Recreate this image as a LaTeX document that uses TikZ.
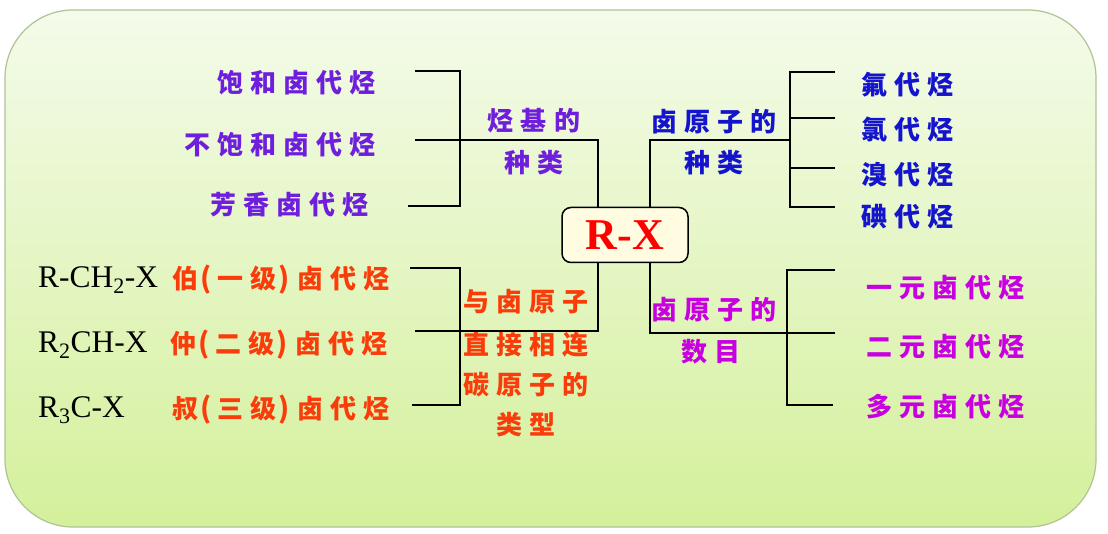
\documentclass[tikz,border=0pt]{standalone}
\usepackage{fontspec}
\setmainfont{Liberation Serif}
\newfontfamily\cjk[LetterSpace=27]{Noto Sans CJK SC}
\newcommand{\lp}{\kern2pt{\fontsize{28}{30}\selectfont(}\kern6pt}
\newcommand{\rp}{\kern2pt{\fontsize{28}{30}\selectfont)}\kern8pt}
\definecolor{cpurple}{RGB}{110,30,220}
\definecolor{cblue}{RGB}{20,20,205}
\definecolor{cmag}{RGB}{200,0,225}
\definecolor{cred}{RGB}{250,60,10}
\definecolor{bgtop}{RGB}{244,251,234}
\definecolor{bgbot}{RGB}{212,240,155}
\definecolor{bgline}{RGB}{175,195,150}
\definecolor{boxfill}{RGB}{255,252,226}
\tikzset{
  zh/.style={font=\cjk\bfseries\fontsize{26}{30}\selectfont, inner sep=0pt},
  formula/.style={font=\fontsize{31.5}{34}\selectfont, inner sep=0pt, text=black},
  wire/.style={line width=1.8pt, black},
}
\begin{document}
\begin{tikzpicture}[x=1pt,y=-1pt]
\useasboundingbox (0,0) rectangle (1108,534);
\fill[white] (0,0) rectangle (1108,534);
\shade[top color=bgtop, bottom color=bgbot, draw=bgline, line width=1.2pt, rounded corners=68pt] (5,10) rectangle (1096,527);

% central node
\node[draw=black, line width=1.5pt, fill=boxfill, rounded corners=9pt, minimum width=126pt, minimum height=55pt, inner sep=0pt, text=red, font=\bfseries\fontsize{44}{46}\selectfont] (rx) at (625,235) {R-X};

% ---- top-left: hydrocarbon group type
\node[zh, text=cpurple, anchor=east] (a1) at (376,83) {饱和卤代烃};
\node[zh, text=cpurple, anchor=east] (a2) at (376,145) {不饱和卤代烃};
\node[zh, text=cpurple, anchor=east] (a3) at (369,205) {芳香卤代烃};
\node[zh, text=cpurple] (la1) at (534,121) {烃基的};
\node[zh, text=cpurple] (la2) at (534,163) {种类};
\coordinate (ta) at (415,71);
\coordinate (ma) at (415,140);
\coordinate (ba) at (408,206);
\draw[wire] (ta) -- (460,71) -- (460,206) -- (ba);
\draw[wire] (ma) -- (598,140) -- (rx.north -| 598,0);

% ---- top-right: halogen type
\node[zh, text=cblue] (lb1) at (714,122) {卤原子的};
\node[zh, text=cblue] (lb2) at (714,163) {种类};
\node[zh, text=cblue, anchor=west] (b1) at (861,85) {氟代烃};
\node[zh, text=cblue, anchor=west] (b2) at (861,130) {氯代烃};
\node[zh, text=cblue, anchor=west] (b3) at (861,175) {溴代烃};
\node[zh, text=cblue, anchor=west] (b4) at (861,217) {碘代烃};
\draw[wire] (rx.north -| 650,0) -- (650,140) -- (790,140);
\draw[wire] (835,72) -- (790,72) -- (790,207) -- (835,207);
\draw[wire] (790,118) -- (835,118);
\draw[wire] (790,168) -- (835,168);

% ---- bottom-right: number of halogens
\node[zh, text=cmag] (lc1) at (714,310) {卤原子的};
\node[zh, text=cmag] (lc2) at (711,352) {数目};
\node[zh, text=cmag, anchor=west] (c1) at (866,288) {一元卤代烃};
\node[zh, text=cmag, anchor=west] (c2) at (866,347) {二元卤代烃};
\node[zh, text=cmag, anchor=west] (c3) at (866,407) {多元卤代烃};
\draw[wire] (rx.south -| 650,0) -- (650,333) -- (835,333);
\draw[wire] (835,270) -- (787,270) -- (787,405) -- (833,405);

% ---- bottom-left: type of carbon bonded to halogen
\node[formula, anchor=west] (f1) at (38,280) {R-CH\textsubscript{2}-X};
\node[formula, anchor=west] (f2) at (38,345) {R\textsubscript{2}CH-X};
\node[formula, anchor=west] (f3) at (38,410) {R\textsubscript{3}C-X};
\node[zh, text=cred, anchor=west] (d1) at (172,280) {伯\lp 一级\rp 卤代烃};
\node[zh, text=cred, anchor=west] (d2) at (170,345) {仲\lp 二级\rp 卤代烃};
\node[zh, text=cred, anchor=west] (d3) at (172,410) {叔\lp 三级\rp 卤代烃};
\node[zh, text=cred] (ld1) at (526,302) {与卤原子};
\node[zh, text=cred] (ld2) at (526,345) {直接相连};
\node[zh, text=cred] (ld3) at (526,385) {碳原子的};
\node[zh, text=cred] (ld4) at (526,425) {类型};
\draw[wire] (410,268) -- (460,268) -- (460,405) -- (412,405);
\draw[wire] (rx.south -| 598,0) -- (598,331) -- (415,331);
\end{tikzpicture}
\end{document}
